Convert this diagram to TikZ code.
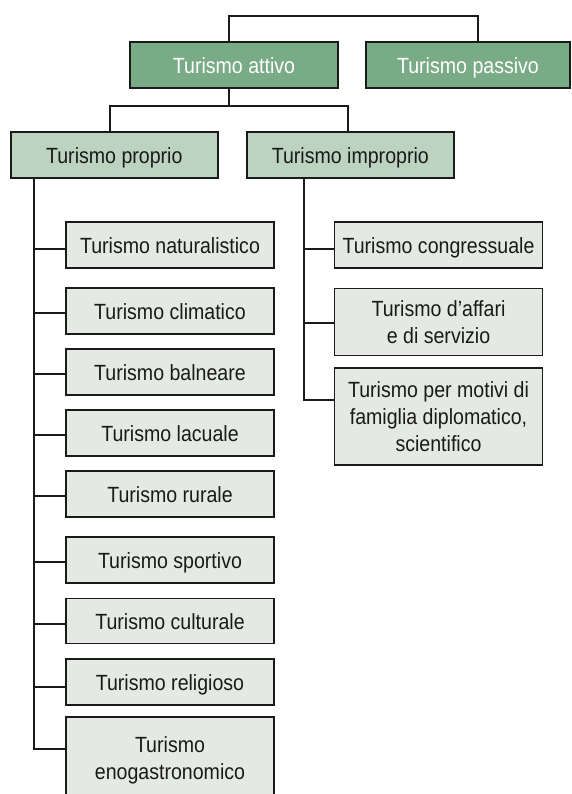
\documentclass[tikz,border=0pt]{standalone}
\usepackage{fontspec}
\setmainfont{Liberation Sans}[FakeStretch=0.89]
\usetikzlibrary{calc}
\definecolor{darkg}{HTML}{7AAB87}
\definecolor{midg}{HTML}{BCD3C0}
\definecolor{leafg}{HTML}{E5E9E3}
\definecolor{ink}{HTML}{1A1A1A}
\tikzset{
  box/.style={draw=ink, line width=1.8pt, rectangle, inner sep=0pt, align=center,
    font=\fontsize{22}{27}\selectfont},
  oneline/.style={text height=22pt, text depth=4.6pt},
  topbox/.style={box, oneline, fill=darkg, text=white, minimum height=46pt},
  midbox/.style={box, oneline, fill=midg, text=ink, minimum width=207pt, minimum height=46pt},
  leafbox/.style={box, fill=leafg, text=ink, minimum width=208pt, minimum height=46pt},
  conn/.style={draw=ink, line width=1.8pt}
}
\begin{document}
\begin{tikzpicture}[x=1pt,y=-1pt]
\useasboundingbox (0,0) rectangle (571,794);
\clip (0,0) rectangle (571,794);
\fill[white] (0,0) rectangle (571,794);
% top level
\node[topbox, minimum width=208pt] (attivo) at (234,65) {Turismo attivo};
\node[topbox, minimum width=204pt] (passivo) at (468,65) {Turismo passivo};
% second level
\node[midbox] (proprio) at (114.3,155) {Turismo proprio};
\node[midbox] (improprio) at (350.3,155) {Turismo improprio};
% left leaves
\node[leafbox, oneline] (natur) at (170,245) {Turismo naturalistico};
\node[leafbox, oneline] (clima) at (170,311) {Turismo climatico};
\node[leafbox, oneline] (balne) at (170,372) {Turismo balneare};
\node[leafbox, oneline] (lacua) at (170,433) {Turismo lacuale};
\node[leafbox, oneline] (rural) at (170,494) {Turismo rurale};
\node[leafbox, oneline] (sport) at (170,560) {Turismo sportivo};
\node[leafbox, oneline, minimum height=45pt] (cultu) at (170,621) {Turismo culturale};
\node[leafbox, oneline] (relig) at (170,682) {Turismo religioso};
\node[leafbox, minimum height=86pt] (enoga) at (170,760.3) {Turismo\\enogastronomico};
% right leaves
\node[leafbox, oneline] (congr) at (438.5,245) {Turismo congressuale};
\node[leafbox, minimum height=67pt] (affari) at (438.5,322) {Turismo d’affari\\e di servizio};
\node[leafbox, minimum height=97pt] (motivi) at (438.5,416.7) {Turismo per motivi di\\famiglia diplomatico,\\scientifico};
% connectors top
\coordinate (topbar) at (229,15.7);
\draw[conn] ([xshift=-5pt]attivo.north) |- (topbar) -| ([xshift=9.7pt]passivo.north);
\coordinate (midbar) at (229,106);
\draw[conn] ([xshift=-5pt]attivo.south) -- (midbar);
\draw[conn] ([xshift=-4.3pt]proprio.north) |- (midbar) -| ([xshift=-2pt]improprio.north);
% left trunk
\coordinate (lt) at ([xshift=-80pt]proprio.south);
\draw[conn] (lt) |- ([yshift=-3.7pt]natur.west);
\draw[conn] (lt) |- ([yshift=-2.3pt]clima.west);
\draw[conn] (lt) |- ([yshift=-2pt]balne.west);
\draw[conn] (lt) |- ([yshift=-1.7pt]lacua.west);
\draw[conn] (lt) |- ([yshift=-2pt]rural.west);
\draw[conn] (lt) |- ([yshift=-2.3pt]sport.west);
\draw[conn] (lt) |- ([yshift=-3pt]cultu.west);
\draw[conn] (lt) |- ([yshift=-5pt]relig.west);
\draw[conn] (lt) |- ([yshift=11pt]enoga.west);
% right trunk
\coordinate (rt) at ([xshift=-46pt]improprio.south);
\draw[conn] (rt) |- ([yshift=-3.7pt]congr.west);
\draw[conn] (rt) |- ([yshift=-0.7pt]affari.west);
\draw[conn] (rt) |- ([yshift=16.7pt]motivi.west);
\end{tikzpicture}
\end{document}
